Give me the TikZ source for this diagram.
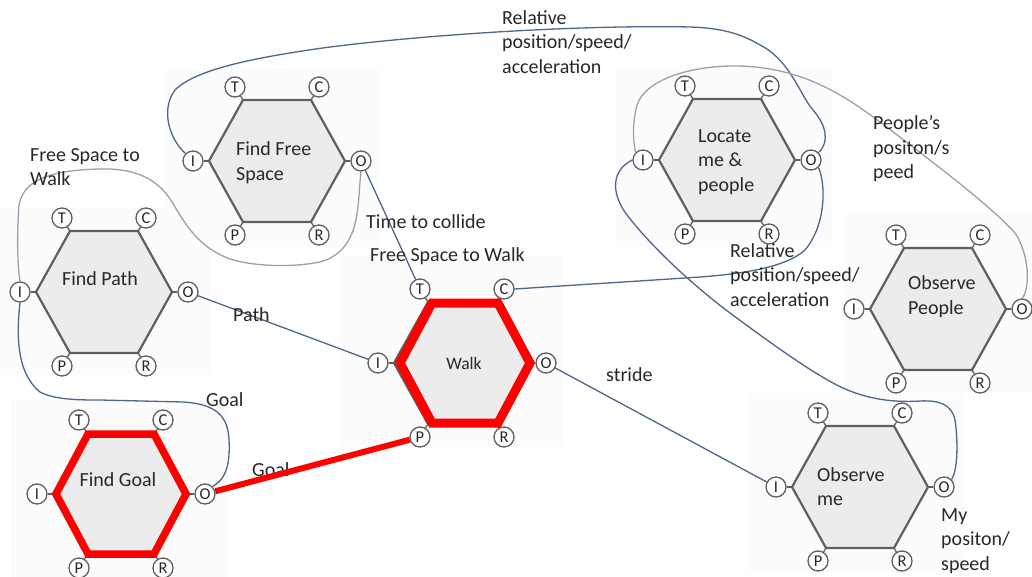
\documentclass[tikz,border=0pt]{standalone}
\usepackage{fontspec}
\setmainfont{Carlito}

\definecolor{hexfill}{RGB}{236,236,236}
\definecolor{hexedge}{RGB}{95,95,95}
\definecolor{wireblue}{RGB}{78,102,136}
\definecolor{wiregray}{RGB}{150,162,176}
\definecolor{ink}{RGB}{40,40,40}
\definecolor{panelgray}{RGB}{252,252,252}

\tikzset{
  hexbody/.style={fill=hexfill, draw=hexedge, line width=2.2pt, line join=miter},
  redhex/.style={draw=red, line join=miter},
  port/.style={circle, draw=hexedge, fill=white, line width=1.3pt, minimum size=20pt,
    inner sep=0pt, font=\fontsize{16.5}{16.5}\selectfont, text=ink},
  stub/.style={draw=hexedge, line width=1.3pt},
  hextext/.style={font=\fontsize{20}{24.5}\selectfont, text=ink, align=left, inner sep=0pt},
  lbl/.style={font=\fontsize{20}{24.5}\selectfont, text=ink, align=left, inner sep=0pt, anchor=west},
  wire/.style={draw=wireblue, line width=1.3pt},
  wirelight/.style={draw=wiregray, line width=1.3pt},
  goalwire/.style={draw=red, line width=6pt},
  backpanel/.style={fill=panelgray, draw=none},
}

% hexagon with its six ports: name, centre x, centre y
\newcommand\hexa[3]{%
  \begin{scope}[shift={(#2,#3)}]
    \draw[hexbody] (-34,-61) -- (34,-61) -- (68,0) -- (34,61) -- (-34,61) -- (-68,0) -- cycle;
    \node[port] (#1-T) at (-42,-74) {T};
    \node[port] (#1-C) at (42,-74) {C};
    \node[port] (#1-I) at (-84,0) {I};
    \node[port] (#1-O) at (84,0) {O};
    \node[port] (#1-P) at (-42,74) {P};
    \node[port] (#1-R) at (42,74) {R};
    \draw[stub] (#1-T) -- (-34,-61);
    \draw[stub] (#1-C) -- (34,-61);
    \draw[stub] (#1-I) -- (-68,0);
    \draw[stub] (#1-O) -- (68,0);
    \draw[stub] (#1-P) -- (-34,61);
    \draw[stub] (#1-R) -- (34,61);
  \end{scope}}

% red highlight outline: centre x, centre y, line width
\newcommand\hilite[3]{%
  \draw[redhex, line width=#3, shift={(#1,#2)}]
    (-33,-60) -- (33,-60) -- (65,0) -- (33,60) -- (-33,60) -- (-65,0) -- cycle;}

\begin{document}
\begin{tikzpicture}[x=1pt,y=-1pt]
\fill[white] (0,0) rectangle (1032,577);
\useasboundingbox (0,0) rectangle (1032,577);

% faint panels behind each process
\fill[backpanel] (10,400) rectangle (228,577);
\fill[backpanel] (0,207) rectangle (210,375);
\fill[backpanel] (165,68) rectangle (380,247);
\fill[backpanel] (340,255) rectangle (562,447);
\fill[backpanel] (615,67) rectangle (833,247);
\fill[backpanel] (845,212) rectangle (1032,392);
\fill[backpanel] (748,393) rectangle (965,572);

% processes
\hexa{goal}{121}{494}
\hexa{path}{104}{292}
\hexa{free}{277}{161}
\hexa{walk}{462}{363}
\hexa{locate}{727}{160}
\hexa{people}{938}{309}
\hexa{me}{860}{487}

\hilite{121}{494}{7.5pt}
\hilite{465}{363}{9pt}

\node[hextext] (goal-txt) at (118,480) {Find Goal};
\node[hextext] (path-txt) at (100,279) {Find Path};
\node[hextext, anchor=west] (free-txt) at (236,162.5) {Find Free\\Space};
\node[hextext, font=\fontsize{17.5}{20}\selectfont] (walk-txt) at (464,363) {Walk};
\node[hextext, anchor=west] (locate-txt) at (698,162) {Locate\\me \&\\people};
\node[hextext, anchor=west] (people-txt) at (908,296.5) {Observe\\People};
\node[hextext, anchor=west] (me-txt) at (817,486.5) {Observe\\me};

% connectors
\draw[wire] (path-I.south) .. controls (17,330) and (15,372) .. (40,392)
  .. controls (55,400) and (80,400) .. (100,400)
  -- (183,402)
  .. controls (215,404) and (228,415) .. (229,440)
  .. controls (230,460) and (228,478) .. (goal-O.north east);

\draw[wire] (path-O) -- (walk-I);
\draw[wire] (free-O) -- (walk-T);
\draw[wire] (walk-O) -- (me-I);

\draw[wirelight] (free-O.south) .. controls (357,205) and (362,250) .. (320,262)
  .. controls (290,268) and (252,266) .. (230,259)
  .. controls (198,247) and (186,225) .. (172,202)
  .. controls (157,177) and (132,168) .. (100,169)
  .. controls (60,170) and (24,176) .. (19,205)
  .. controls (17,230) and (17,262) .. (path-I.north);

\draw[wire] (locate-O.north east) .. controls (830,142) and (826,125) .. (813,110)
  .. controls (800,95) and (790,60) .. (760,45)
  .. controls (740,33) and (720,28) .. (690,27)
  .. controls (600,25) and (450,32) .. (330,47)
  .. controls (250,58) and (195,70) .. (175,90)
  .. controls (160,110) and (170,140) .. (free-I.north west);

\draw[wire] (locate-O.south east) .. controls (826,185) and (826,225) .. (805,250)
  .. controls (785,268) and (740,274) .. (700,277)
  .. controls (640,281) and (560,286) .. (walk-C.east);

\draw[wire] (me-O.north east) .. controls (958,470) and (958,440) .. (955,420)
  .. controls (952,405) and (940,400) .. (920,401)
  .. controls (890,403) and (860,398) .. (833,383)
  .. controls (800,365) and (760,335) .. (730,313)
  .. controls (690,283) and (650,245) .. (627,215)
  .. controls (610,192) and (612,170) .. (locate-I.west);

\draw[wirelight] (people-O.north) .. controls (1030,290) and (1030,255) .. (1015,233)
  .. controls (990,205) and (930,160) .. (880,122)
  .. controls (840,92) and (800,68) .. (740,66)
  .. controls (690,65) and (645,80) .. (637,105)
  .. controls (632,125) and (633,140) .. (locate-I.north west);

% labels
\node[lbl] (l-rel-top) at (502,42) {Relative\\position/speed/\\acceleration};
\node[lbl] (l-people) at (873,149) {People’s\\positon/s\\peed};
\node[lbl] (l-rel-mid) at (730,275) {Relative\\position/speed/\\acceleration};
\node[lbl] (l-free-a) at (30,167) {Free Space to\\Walk};
\node[lbl] (l-time) at (366,222) {Time to collide};
\node[lbl] (l-free-b) at (370,256) {Free Space to Walk};
\node[lbl] (l-path) at (233,315) {Path};
\node[lbl] (l-stride) at (606,375) {stride};
\node[lbl] (l-goal-a) at (206,400) {Goal};
\node[lbl] (l-goal-b) at (252,470) {Goal};
\node[lbl] (l-me) at (941,541) {My\\positon/\\speed};

% highlighted goal link
\draw[goalwire] (goal-O) -- (walk-P);
\end{tikzpicture}
\end{document}
